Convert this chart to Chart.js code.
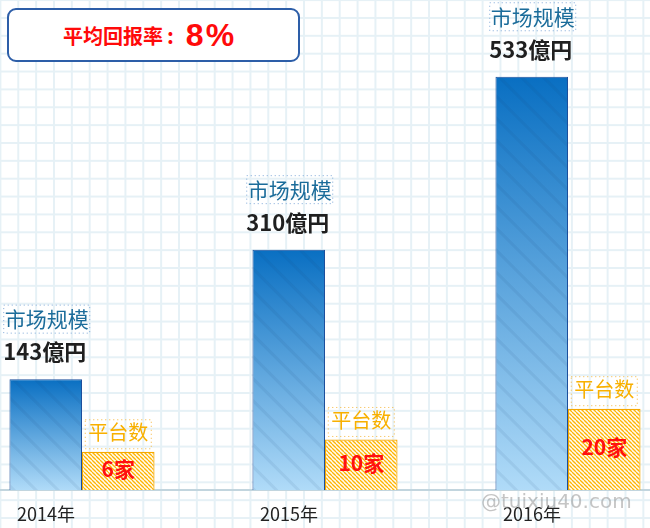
<!DOCTYPE html>
<html>
<head>
<meta charset="utf-8">
<script src="https://cdn.jsdelivr.net/npm/chart.js@4.4.1/dist/chart.umd.min.js"></script>
<style>
  html, body { margin: 0; padding: 0; }
  #wrap {
    position: relative;
    width: 650px;
    height: 528px;
    background-color: #fff;
    background-image:
      linear-gradient(#e6f1f6 2px, transparent 2px),
      linear-gradient(90deg, #e6f1f6 2px, transparent 2px);
    background-size: 17.87px 17.87px;
    background-position: -0.6px -0.9px;
    overflow: hidden;
    font-family: "Noto Sans CJK SC", "Noto Sans", sans-serif;
  }
  #chart { position: absolute; left: 0; top: 0; }
  #rate {
    position: absolute;
    left: 7px; top: 8px;
    width: 289px; height: 50px;
    border: 2px solid #2d5ea8;
    border-radius: 9px;
    background: #fff;
    color: #ff0a0a;
    font-weight: bold;
    display: flex; align-items: center;
  }
  #rate .t { font-size: 20px; margin-left: 54px; }
  #rate .c { font-size: 21px; margin: 0 12px 0 4px; }
  #rate .v { font-size: 32px; letter-spacing: 2px; font-family: "Liberation Sans", Arial, sans-serif; }
  #mark {
    position: absolute;
    left: 481px; top: 489px;
    font-family: "DejaVu Sans", sans-serif;
    font-size: 20px;
    color: rgba(140, 140, 140, 0.5);
  }
</style>
</head>
<body>
<div id="wrap">
  <canvas id="chart" width="650" height="528"></canvas>
  <div id="rate"><span class="t">平均回报率</span><span class="c">:</span><span class="v" id="rate-val"></span></div>
  <div id="mark">@tuixiu40.com</div>
</div>
<script>
// datos
const years = ['2014年', '2015年', '2016年'];
const marketSize = [143, 310, 533];      // 億円
const platformCount = [6, 10, 20];       // 家
const marketLabel = '市场规模';
const platformLabel = '平台数';
const sizeUnit = '億円';
const countUnit = '家';
const avgReturn = '8%';

// ejes (las barras naranjas arrancan desde el mínimo del eje y2)
const SIZE_MAX = 632;
const PLAT_MIN = -6.42;
const PLAT_MAX = 152.8;

const FONT = "'Noto Sans CJK SC', sans-serif";

document.getElementById('rate-val').textContent = avgReturn;

// patrón rayado para las barras de plataformas
function hatchPattern() {
  const s = 4;
  const c = document.createElement('canvas');
  c.width = s; c.height = s;
  const g = c.getContext('2d');
  g.fillStyle = '#fffbf2';
  g.fillRect(0, 0, s, s);
  g.strokeStyle = '#ffb400';
  g.lineWidth = 1.3;
  for (let k = -1; k <= 1; k++) {
    g.beginPath();
    g.moveTo(0, k * s);
    g.lineTo(s, s + k * s);
    g.stroke();
  }
  return g.createPattern(c, 'repeat');
}

function blueGradient(ctx) {
  const chart = ctx.chart;
  const y = chart.scales.y;
  if (!y || !ctx.parsed) return '#0b74c6';
  const top = y.getPixelForValue(ctx.parsed.y);
  const bottom = y.getPixelForValue(0);
  if (!isFinite(top) || !isFinite(bottom) || bottom - top < 1) return '#0b74c6';
  const grad = chart.ctx.createLinearGradient(0, top, 0, bottom);
  grad.addColorStop(0, '#096fc2');
  grad.addColorStop(1, '#b0dbf8');
  return grad;
}

// línea base, rayas y etiquetas
const decoPlugin = {
  id: 'deco',
  beforeDatasetsDraw(chart) {
    const c = chart.ctx;
    const y0 = chart.scales.y.getPixelForValue(0);
    c.save();
    c.fillStyle = '#c2d5de';
    c.fillRect(0, y0 - 1, chart.width, 2);
    c.restore();
  },
  afterDatasetsDraw(chart) {
    const c = chart.ctx;
    const blue = chart.getDatasetMeta(0).data;
    const orange = chart.getDatasetMeta(1).data;

    // rayas diagonales sobre las barras azules
    blue.forEach(el => {
      const p = el.getProps(['x', 'y', 'base', 'width'], true);
      const l = p.x - p.width / 2 + 1, r = p.x + p.width / 2 - 1;
      const h = p.base - p.y;
      c.save();
      c.beginPath();
      c.rect(l, p.y + 1, r - l, h - 1);
      c.clip();
      c.strokeStyle = 'rgba(20, 60, 120, 0.08)';
      c.lineWidth = 3;
      for (let k = p.y - (r - l) - 20; k < p.base + 20; k += 22) {
        c.beginPath();
        c.moveTo(l - 10, k - 10);
        c.lineTo(r + 10, k + (r - l) + 10);
        c.stroke();
      }
      c.restore();
    });

    c.save();
    c.textAlign = 'center';
    c.textBaseline = 'middle';

    blue.forEach((el, i) => {
      const p = el.getProps(['x', 'y'], true);
      // título con recuadro punteado
      c.font = '21px ' + FONT;
      const w = c.measureText(marketLabel).width;
      c.save();
      c.setLineDash([1, 3]);
      c.strokeStyle = '#7fa8d8';
      c.lineWidth = 1;
      c.strokeRect(p.x - w / 2, p.y - 74, w + 2, 28);
      c.restore();
      c.fillStyle = '#1b6c9a';
      c.fillText(marketLabel, p.x + 1, p.y - 60);
      c.font = 'bold 22px ' + FONT;
      c.fillStyle = '#1f1f1f';
      c.fillText(marketSize[i] + sizeUnit, p.x - 1, p.y - 27);
    });

    orange.forEach((el, i) => {
      const p = el.getProps(['x', 'y', 'base'], true);
      c.font = '20px ' + FONT;
      const w = c.measureText(platformLabel).width;
      c.save();
      c.setLineDash([1, 3]);
      c.strokeStyle = '#f5b63a';
      c.lineWidth = 1;
      c.strokeRect(p.x - w / 2 - 3, p.y - 32, w + 6, 29);
      c.restore();
      c.fillStyle = '#f8b000';
      c.fillText(platformLabel, p.x, p.y - 19);
      c.font = 'bold 21px ' + FONT;
      c.fillStyle = '#ff1010';
      c.fillText(platformCount[i] + countUnit, p.x, (p.y + p.base) / 2 - 2);
    });
    c.restore();
  }
};

new Chart(document.getElementById('chart'), {
  type: 'bar',
  data: {
    labels: years,
    datasets: [{
      label: marketLabel,
      data: marketSize,
      yAxisID: 'y',
      clip: false,
      backgroundColor: blueGradient,
      borderColor: '#1c4f9c',
      borderWidth: 1
    }, {
      label: platformLabel,
      data: platformCount,
      yAxisID: 'y2',
      clip: false,
      base: PLAT_MIN,
      backgroundColor: hatchPattern(),
      borderColor: '#f5a800',
      borderWidth: 1.2
    }]
  },
  options: {
    responsive: false,
    animation: false,
    layout: { padding: { left: 82, right: 82, top: 0, bottom: 0 } },
    categoryPercentage: 0.597,
    barPercentage: 1,
    plugins: {
      legend: { display: false },
      tooltip: { enabled: false }
    },
    scales: {
      x: {
        offset: false,
        grid: { display: false, drawTicks: false },
        border: { display: false },
        ticks: {
          color: '#222',
          font: { family: FONT, size: 18 },
          padding: 13,
          labelOffset: -36,
          maxRotation: 0
        },
        afterFit(scale) { scale.height = 38; }
      },
      y: { display: false, min: 0, max: SIZE_MAX },
      y2: { display: false, min: PLAT_MIN, max: PLAT_MAX }
    }
  },
  plugins: [decoPlugin]
});
</script>
</body>
</html>
